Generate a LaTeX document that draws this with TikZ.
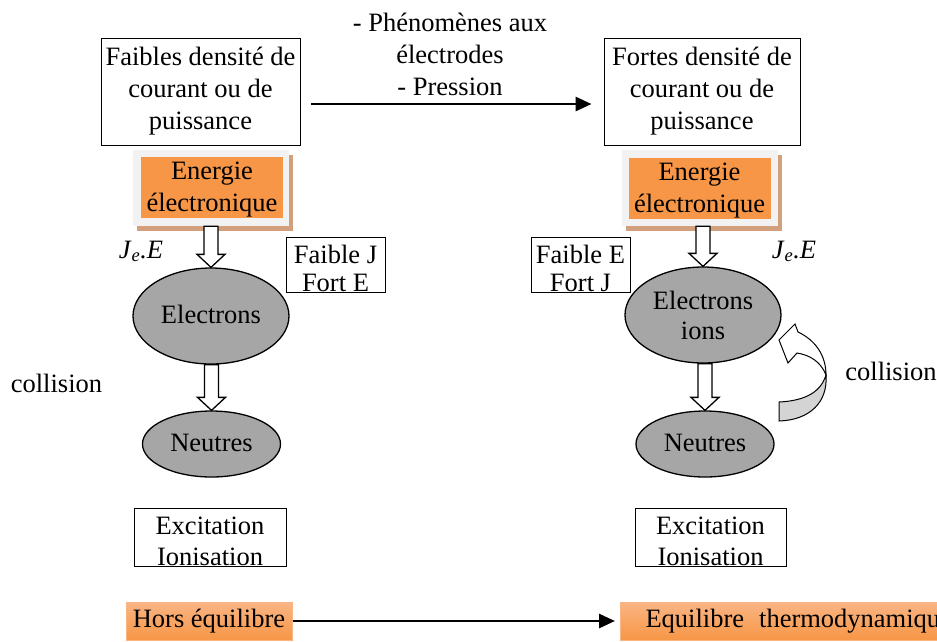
\documentclass[tikz,border=0pt]{standalone}
\usepackage{fontspec}
\setmainfont{Liberation Serif}
\usetikzlibrary{arrows.meta,calc,shadows,shapes.geometric}
\definecolor{orA}{HTML}{F79646}
\definecolor{orL}{HTML}{FAB584}
\definecolor{frameg}{HTML}{F2F2F2}
\definecolor{shtan}{HTML}{D2A07D}
\definecolor{ellg}{HTML}{A6A6A6}
\definecolor{curvg}{HTML}{D4D4D4}
\newcommand\hollowdown[2]{%
  \draw[hollow] let \p1=(#1), \p2=(#2) in
  (\x2-7pt,\y1) -- (\x2+7pt,\y1) -- (\x2+7pt,\y2+13pt) -- (\x2+14pt,\y2+13pt)
  -- (\x2,\y2) -- (\x2-14pt,\y2+13pt) -- (\x2-7pt,\y2+13pt) -- cycle;}
\begin{document}
\begin{tikzpicture}[x=1pt,y=-1pt,font=\fontsize{26.5}{32}\selectfont,
  box/.style={draw,line width=0.9pt,inner sep=0pt,align=center},
  ell/.style={ellipse,draw,line width=1.3pt,fill=ellg,inner sep=0pt},
  stxt/.style={text height=18pt,text depth=3pt},
  frm/.style={fill=frameg,inner sep=0pt,minimum width=156pt,minimum height=76pt,
    drop shadow={shadow xshift=3.5pt,shadow yshift=-5pt,fill=shtan,opacity=1}},
  orb/.style={fill=orA,inner sep=0pt,minimum width=142pt,minimum height=61pt},
  hollow/.style={draw,line width=1.3pt,fill=white,line join=miter},
  arr/.style={line width=2.8pt,-{Triangle[length=16pt,width=14pt]}},
  txt/.style={inner sep=0pt,align=center},
  hors/.style={top color=orL,bottom color=orA,draw=orL,line width=1pt,inner sep=0pt}]
\clip (0,0) rectangle (937,641);
% top boxes
\node[box,minimum width=199pt,minimum height=107pt] (topL) at (200.5,91.5) {Faibles densité de\\courant ou de\\puissance};
\node[box,minimum width=196pt,minimum height=107pt] (topR) at (702,91.5) {Fortes densité de\\courant ou de\\puissance};
\node[txt] (phen) at (450,54) {- Phénomènes aux\\électrodes\\- Pression};
\draw[arr,shorten <=11pt,shorten >=12pt] ([yshift=-12.5pt]topL.east) -- ([yshift=-12.5pt]topR.west);
% energy boxes
\node[frm] (fL) at (211,188) {};
\node[orb] (eL) at (212,187.5) {};
\node[txt] (tEL) at (212,190) {Energie\\électronique};
\node[frm] (fR) at (700,188) {};
\node[orb] (eR) at (699.5,188) {};
\node[txt] (tER) at (699.5,190.5) {Energie\\électronique};
% ellipses
\node[ell,stxt,minimum width=156pt,minimum height=96pt] (eleL) at (211,316) {Electrons};
\node[ell,stxt,minimum width=138pt,minimum height=66pt] (neuL) at (211.5,444) {Neutres};
\node[ell,align=center,font=\fontsize{26.5}{30}\selectfont,minimum width=156pt,minimum height=96pt] (eleR) at (703,315) {Electrons\\ions};
\node[ell,stxt,minimum width=138pt,minimum height=66pt] (neuR) at (705,444) {Neutres};
% hollow arrows
\hollowdown{fL.south}{eleL.north}
\hollowdown{eleL.south}{neuL.north}
\hollowdown{fR.south}{eleR.north}
\hollowdown{eleR.south}{neuR.north}
% small boxes
\node[box,minimum width=99pt,minimum height=55pt] (bJ) at (335.5,264.5) {};
\node[txt,font=\fontsize{26.5}{28}\selectfont] (tJ) at (335.5,268) {Faible J\\Fort E};
\node[box,minimum width=99pt,minimum height=55pt] (bE) at (580.5,264.5) {};
\node[txt,font=\fontsize{26.5}{28}\selectfont] (tE) at (580.5,268) {Faible E\\Fort J};
% J.E labels
\node[txt,anchor=base] (jL) at (141,258) {\textit{J}\textsubscript{\textit{e}}\textit{.E}};
\node[txt,anchor=base] (jR) at (794,258) {\textit{J}\textsubscript{\textit{e}}\textit{.E}};
% collision
\node[txt,anchor=base] (colL) at (56.5,392) {collision};
\node[txt,anchor=base] (colR) at (891,380) {collision};
% curved arrow
\filldraw[fill=white,draw=black,line width=1pt,line join=miter]
  (779,340) -- (795,324) -- (798,332) .. controls (815,340) and (826,355) .. (826,375)
  .. controls (821,362) and (810,355) .. (797,353) -- (788,363) -- cycle;
\filldraw[fill=curvg,draw=black,line width=1pt]
  (826,375) .. controls (828,402) and (810,420) .. (779,421) -- (779,402)
  .. controls (800,401) and (820,395) .. (826,375) -- cycle;
% excitation boxes
\node[box,minimum width=152pt,minimum height=58pt] (bxL) at (210,537) {};
\node[txt,font=\fontsize{26.5}{31}\selectfont] (exL) at (210,541.5) {Excitation\\Ionisation};
\node[box,minimum width=151pt,minimum height=58pt] (bxR) at (710.5,537) {};
\node[txt,font=\fontsize{26.5}{31}\selectfont] (exR) at (710.5,541.5) {Excitation\\Ionisation};
% bottom
\node[hors,minimum width=166pt,minimum height=38pt] (hors) at (209,621) {Hors équilibre};
\node[hors,anchor=west,text width=315pt,inner xsep=25pt,inner ysep=0pt,align=left,minimum height=38pt] (eq) at (620,621) {Equilibre\hspace{15pt}thermodynamique};
\draw[arr,shorten >=5pt] (hors.east) -- (eq.west);
\end{tikzpicture}
\end{document}
